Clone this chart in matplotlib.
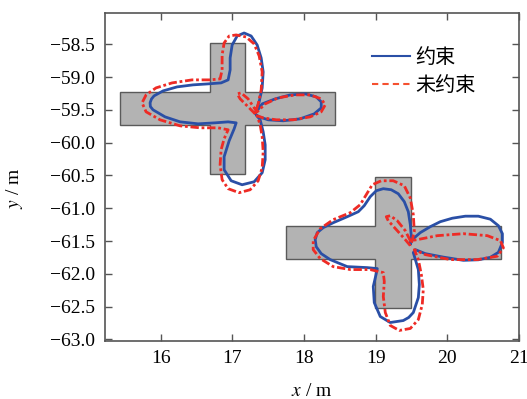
import numpy as np
import matplotlib
matplotlib.use('Agg')
import matplotlib.pyplot as plt
from matplotlib.patches import Polygon
from matplotlib.lines import Line2D

# obstacles: two crosses (centre, half sizes)
cross_cx = [16.93, 19.245]
cross_cy = [-59.485, -61.52]
cross_half_long = 1.5    # horizontal arm
cross_half_short = 1.0   # vertical arm
cross_half_w = 0.25

# trajectories
b1_x = [17.32, 17.415, 17.596, 17.806, 18.015, 18.169, 18.239, 18.239, 18.141, 17.945,
        17.708, 17.499, 17.373, 17.331, 17.387, 17.429, 17.457, 17.457, 17.415, 17.303,
        17.135, 16.982, 16.884, 16.884, 16.954, 17.024, 17.052, 16.940, 16.758, 16.521,
        16.270, 16.060, 15.892, 15.855, 15.851, 15.870, 15.906, 16.032, 16.228, 16.451,
        16.661, 16.842, 16.940, 16.968, 16.968, 16.996, 17.066, 17.163, 17.261, 17.345,
        17.401, 17.429, 17.415, 17.373, 17.32]
b1_y = [-59.55, -59.409, -59.333, -59.272, -59.256, -59.302, -59.378, -59.470, -59.561, -59.637,
        -59.667, -59.652, -59.607, -59.576, -59.652, -59.835, -60.033, -60.261, -60.459, -60.596,
        -60.642, -60.581, -60.413, -60.215, -59.972, -59.789, -59.698, -59.683, -59.698, -59.713,
        -59.683, -59.607, -59.500, -59.450, -59.393, -59.335, -59.287, -59.211, -59.150, -59.119,
        -59.104, -59.089, -59.043, -58.891, -58.709, -58.511, -58.374, -58.328, -58.374, -58.511,
        -58.709, -58.922, -59.165, -59.378, -59.55]

r1_x = [17.317, 17.219, 17.108, 17.066, 17.121, 17.219, 17.303, 17.345, 17.457, 17.638,
        17.876, 18.085, 18.239, 18.295, 18.239, 18.085, 17.848, 17.610, 17.429, 17.345,
        17.387, 17.415, 17.429, 17.415, 17.359, 17.247, 17.094, 16.940, 16.856, 16.828,
        16.842, 16.884, 16.940, 16.800, 16.549, 16.270, 15.990, 15.795, 15.739, 15.795,
        15.934, 16.158, 16.437, 16.689, 16.828, 16.856, 16.856, 16.884, 16.954, 17.052,
        17.191, 17.303, 17.373, 17.415, 17.401, 17.359, 17.317]
r1_y = [-59.561, -59.454, -59.333, -59.256, -59.241, -59.333, -59.470, -59.530, -59.409, -59.317,
        -59.272, -59.272, -59.333, -59.424, -59.530, -59.607, -59.652, -59.652, -59.622, -59.591,
        -59.728, -59.911, -60.139, -60.383, -60.581, -60.718, -60.763, -60.702, -60.565, -60.337,
        -60.109, -59.941, -59.804, -59.774, -59.774, -59.744, -59.652, -59.530, -59.393, -59.272,
        -59.165, -59.089, -59.043, -59.043, -59.028, -58.891, -58.663, -58.480, -58.374, -58.358,
        -58.389, -58.495, -58.678, -58.922, -59.196, -59.409, -59.561]

b2_x = [19.482, 19.524, 19.621, 19.761, 19.901, 20.068, 20.250, 20.431, 20.599, 20.711,
        20.767, 20.767, 20.711, 20.599, 20.431, 20.222, 19.943, 19.691, 19.552, 19.524,
        19.594, 19.608, 19.594, 19.524, 19.460, 19.384, 19.202, 19.063, 18.979, 18.965,
        19.007, 19.021, 18.881, 18.602, 18.364, 18.239, 18.169, 18.155, 18.183, 18.267,
        18.406, 18.602, 18.756, 18.839, 18.923, 19.007, 19.105, 19.216, 19.314, 19.398,
        19.454, 19.482, 19.496, 19.482]
b2_y = [-61.540, -61.464, -61.372, -61.281, -61.205, -61.152, -61.121, -61.121, -61.167, -61.266,
        -61.388, -61.524, -61.672, -61.748, -61.786, -61.794, -61.745, -61.692, -61.631, -61.677,
        -61.935, -62.164, -62.362, -62.590, -62.665, -62.712, -62.742, -62.651, -62.438, -62.194,
        -61.996, -61.920, -61.905, -61.890, -61.783, -61.692, -61.586, -61.479, -61.372, -61.296,
        -61.221, -61.129, -61.053, -60.961, -60.824, -60.733, -60.702, -60.718, -60.779, -60.900,
        -61.053, -61.250, -61.433, -61.540]

r2_x = [19.482, 19.412, 19.300, 19.174, 19.147, 19.202, 19.300, 19.412, 19.482, 19.579,
        19.859, 20.222, 20.557, 20.739, 20.781, 20.697, 20.417, 20.040, 19.691, 19.538,
        19.594, 19.636, 19.663, 19.649, 19.594, 19.482, 19.328, 19.202, 19.133, 19.105,
        19.119, 19.105, 18.923, 18.644, 18.406, 18.225, 18.127, 18.127, 18.225, 18.406,
        18.644, 18.783, 18.867, 18.951, 19.077, 19.244, 19.398, 19.482, 19.524, 19.538,
        19.496, 19.482]
r2_y = [-61.570, -61.479, -61.342, -61.190, -61.129, -61.114, -61.190, -61.342, -61.494, -61.479,
        -61.418, -61.388, -61.418, -61.494, -61.603, -61.731, -61.783, -61.783, -61.707, -61.631,
        -61.783, -62.011, -62.240, -62.468, -62.697, -62.833, -62.863, -62.787, -62.590, -62.346,
        -62.118, -61.981, -61.935, -61.935, -61.890, -61.768, -61.631, -61.494, -61.311, -61.174,
        -61.068, -60.946, -60.794, -60.642, -60.581, -60.581, -60.657, -60.845, -61.098, -61.357,
        -61.540, -61.570]

x_ticks = [16, 17, 18, 19, 20, 21]
y_ticks = [-58.5, -59.0, -59.5, -60.0, -60.5, -61.0, -61.5, -62.0, -62.5, -63.0]

blue = '#2a4fa6'
red = '#ee2b25'

plt.rcParams['font.family'] = ['Liberation Serif', 'DejaVu Serif']
plt.rcParams['mathtext.fontset'] = 'stix'

fig = plt.figure(figsize=(5.27, 3.99), dpi=100)
ax = fig.add_axes([0.199, 0.146, 0.786, 0.822])

for cx, cy in zip(cross_cx, cross_cy):
    L, S, w = cross_half_long, cross_half_short, cross_half_w
    verts = [(cx - L, cy - w), (cx - w, cy - w), (cx - w, cy - S), (cx + w, cy - S),
             (cx + w, cy - w), (cx + L, cy - w), (cx + L, cy + w), (cx + w, cy + w),
             (cx + w, cy + S), (cx - w, cy + S), (cx - w, cy + w), (cx - L, cy + w)]
    ax.add_patch(Polygon(verts, closed=True, facecolor='#b3b3b3', edgecolor='#5a5a5a',
                         lw=1.0, zorder=1))

ax.plot(b1_x, b1_y, color=blue, lw=2.0, zorder=3, solid_joinstyle='round')
ax.plot(b2_x, b2_y, color=blue, lw=2.0, zorder=3, solid_joinstyle='round')
ax.plot(r1_x, r1_y, color=red, lw=2.0, ls=(0, (3, 1, 1, 1)), zorder=4)
ax.plot(r2_x, r2_y, color=red, lw=2.0, ls=(0, (3, 1, 1, 1)), zorder=4)

ax.set_xlim(15.22, 21.0)
ax.set_ylim(-63.02, -58.02)
ax.set_xticks(x_ticks)
ax.set_yticks(y_ticks)
ax.set_yticklabels([f'\u2212{abs(v):.1f}' for v in y_ticks])
ax.tick_params(direction='in', length=5, width=1.0, color='#555555', labelsize=14,
               top=True, right=True)
ax.tick_params(axis='y', pad=7)
ax.tick_params(axis='x', pad=7)
for s in ax.spines.values():
    s.set_color('#555555')
    s.set_linewidth(1.2)

ax.set_xlabel(r'$x$ / m', fontsize=14)
ax.set_ylabel(r'$y$ / m', fontsize=14)
ax.xaxis.set_label_coords(0.499, -0.128)
ax.yaxis.set_label_coords(-0.193, 0.466)

handles = [Line2D([], [], color=blue, lw=1.5),
           Line2D([], [], color='#f5502f', lw=1.5, ls=(0, (3, 2)))]
ax.legend(handles, ['约束', '未约束'], loc='upper left', bbox_to_anchor=(0.645, 0.895),
          frameon=False, handlelength=1.9, handletextpad=0.25, labelspacing=0.35,
          borderpad=0, borderaxespad=0,
          prop={'family': ['Noto Sans CJK SC', 'DejaVu Sans'], 'size': 14.5})

fig.savefig('out.png', dpi=100)
